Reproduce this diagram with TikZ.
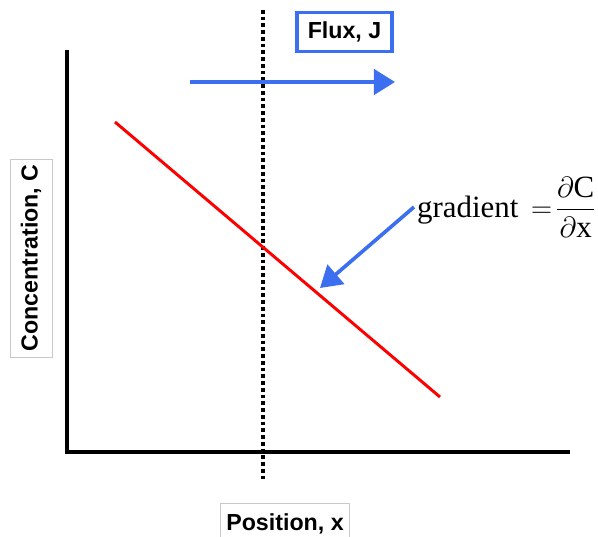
\documentclass[tikz,border=0pt]{standalone}
\usepackage{amsmath}
\usepackage{fontspec}
\setmainfont{Liberation Serif}
\setsansfont{Liberation Sans}
\usepackage{tikz}
\usetikzlibrary{arrows.meta,positioning}

\definecolor{fluxblue}{RGB}{60,110,240}
\definecolor{boxgray}{RGB}{200,200,200}

\begin{document}
\begin{tikzpicture}[x=0.025cm, y=-0.025cm,
  axis/.style={line width=2.8pt},
  marker/.style={line width=2.6pt, dash pattern=on 2.6pt off 2.2pt},
  profile/.style={red, line width=2.1pt},
  sidelabel/.style={draw=boxgray, line width=0.5pt, font=\sffamily\bfseries\fontsize{16.5}{19}\selectfont, inner sep=4pt, minimum height=42*0.025cm},
  fluxbox/.style={draw=fluxblue, line width=2.2pt, font=\sffamily\bfseries\fontsize{16.5}{19}\selectfont, minimum width=95*0.025cm, minimum height=39*0.025cm, inner sep=0pt},
  gradlabel/.style={font=\fontsize{22}{25}\selectfont, inner sep=2pt},
  bluearrow/.style={fluxblue, line width=2.6pt, -{Triangle[length=15pt, width=18pt]}}
]
\clip (0,0) rectangle (598,537);

% Axes
\coordinate (origin) at (67,452);
\coordinate (ytop) at (67,50);
\coordinate (xend) at (570,452);
\draw[axis] (ytop) -- (origin) -- (xend);

% Dotted position marker
\coordinate (mtop) at (263,10);
\coordinate (mbot) at (263,482);
\draw[marker] (mtop) -- (mbot);

% Concentration profile
\coordinate (hi) at (115,122);
\coordinate (lo) at (440,397);
\draw[profile] (hi) -- (lo);

% Labels
\node[sidelabel, rotate=90] (conc) at (31,258) {Concentration, C};
\node[sidelabel] (pos) at (285,524) {Position, x};
\node[fluxbox] (flux) at (344.5,32) {Flux, J};
\node[gradlabel, anchor=west] (grad) at (414,207) {gradient\hspace{9pt}$=\!\dfrac{\partial\mathrm{C}}{\partial\mathrm{x}}$};

% Arrows
\coordinate (fluxtail) at (190,82);
\coordinate (fluxtip) at (395,82);
\draw[bluearrow] (fluxtail) -- (fluxtip);
\coordinate (hit) at (320,288);
\draw[bluearrow] (grad.west) -- (hit);
\end{tikzpicture}
\end{document}
